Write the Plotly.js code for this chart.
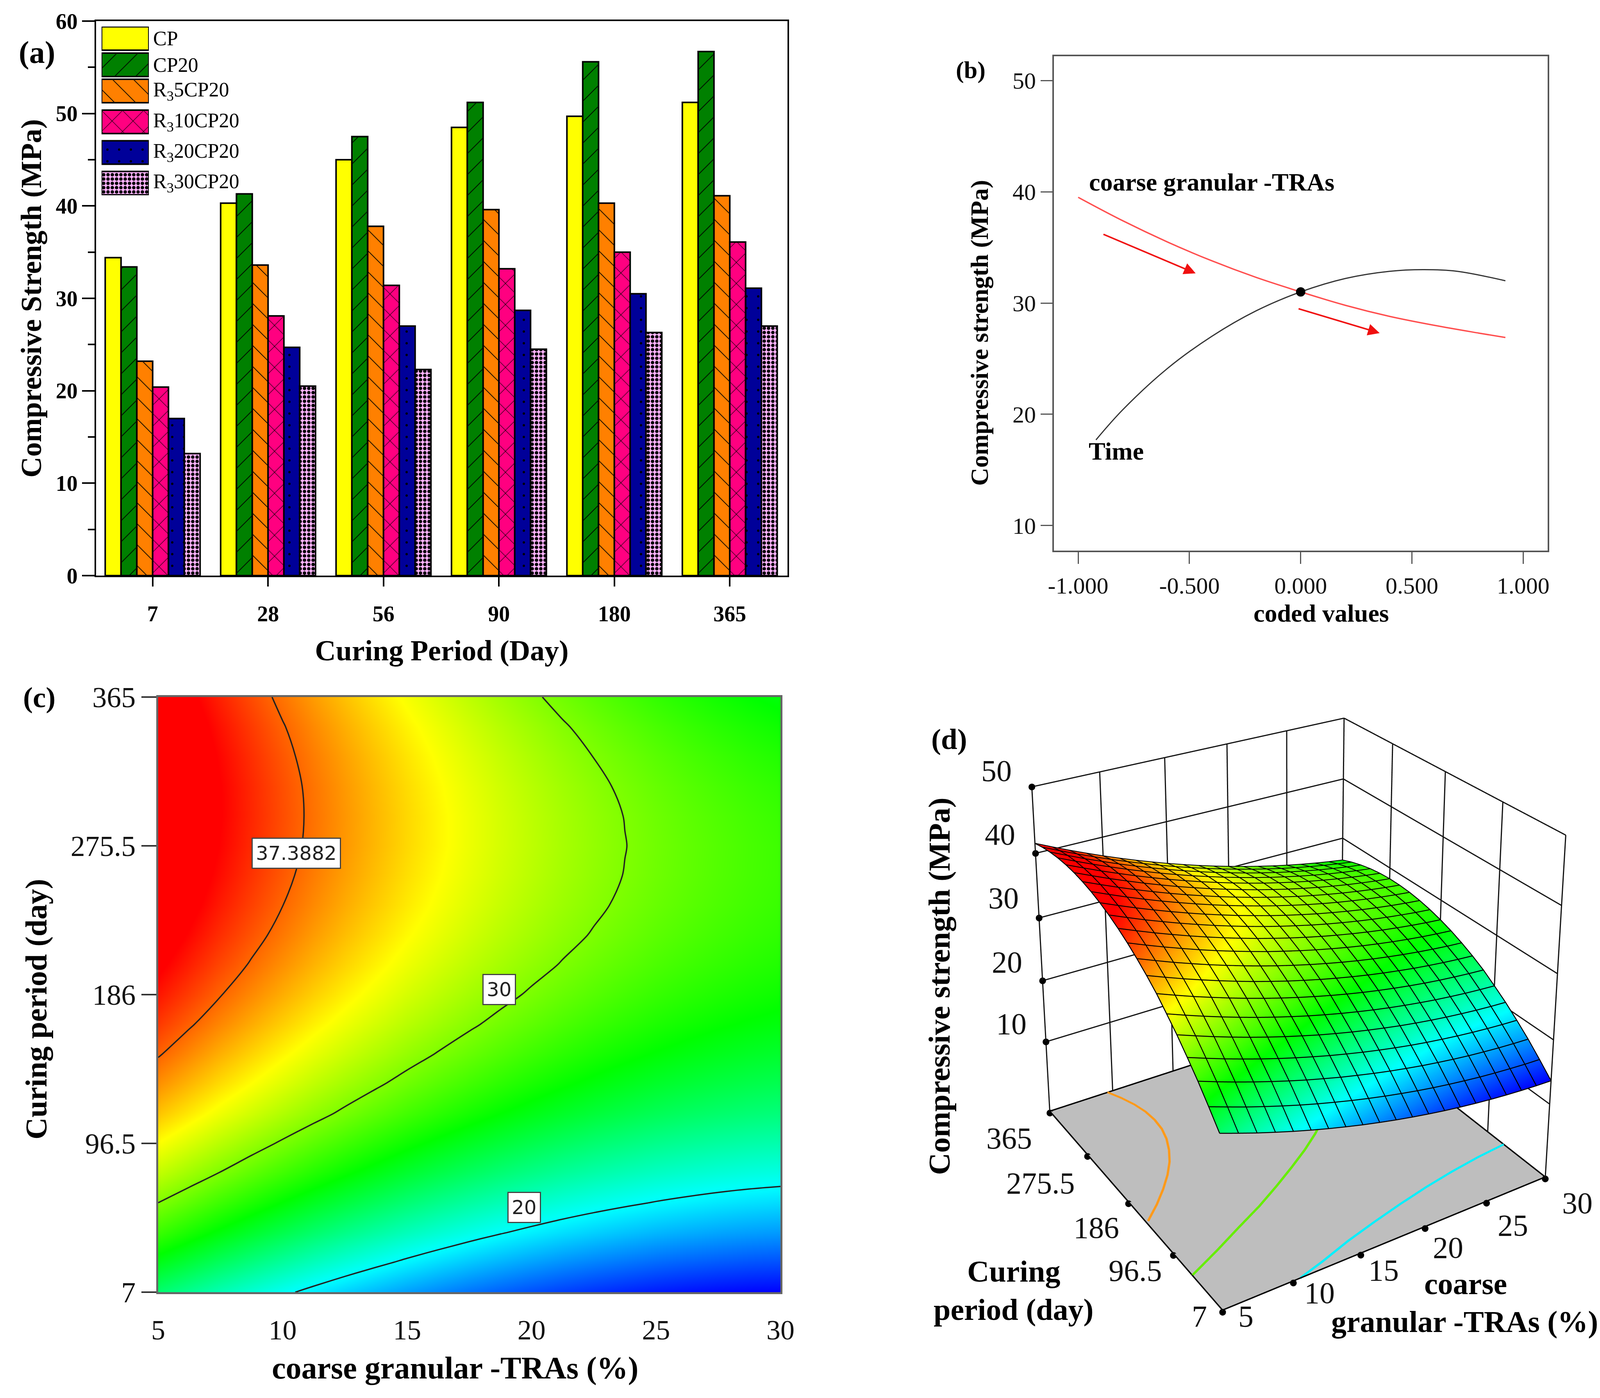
<!DOCTYPE html>
<html>
<head>
<meta charset="utf-8">
<script src="https://cdn.plot.ly/plotly-3.0.1.min.js"></script>
<style>html,body{margin:0;padding:0;background:#fff}</style>
</head>
<body>
<div id="chart" style="width:4111px;height:3580px"></div>
<script>
// panel (a) - bars
const days = ["7", "28", "56", "90", "180", "365"];
const cp      = [34.4, 40.3, 45.0, 48.5, 49.7, 51.2];
const cp20    = [33.4, 41.3, 47.5, 51.2, 55.6, 56.7];
const r5cp20  = [23.2, 33.6, 37.8, 39.6, 40.3, 41.1];
const r10cp20 = [20.4, 28.1, 31.4, 33.2, 35.0, 36.1];
const r20cp20 = [17.0, 24.7, 27.0, 28.7, 30.5, 31.1];
const r30cp20 = [13.2, 20.5, 22.3, 24.5, 26.3, 27.0];

// panel (b) - trace curves
const tracex = [-1, -0.8, -0.6, -0.4, -0.2, 0, 0.2, 0.4, 0.6, 0.8, 0.92];
const coarse = [39.5, 37.4, 35.5, 33.8, 32.3, 31, 29.8, 28.8, 28.0, 27.3, 26.9];
const timex  = [-0.92, -0.8, -0.6, -0.4, -0.2, 0, 0.2, 0.4, 0.55, 0.7, 0.92];
const timey  = [17.7, 20.4, 24.1, 27.0, 29.3, 31, 32.2, 32.85, 33, 32.86, 32.0];

// panels (c) and (d) - response surface
const tras = [5, 6.25, 7.5, 8.75, 10, 11.25, 12.5, 13.75, 15, 16.25, 17.5, 18.75, 20, 21.25, 22.5, 23.75, 25, 26.25, 27.5, 28.75, 30];
const curing = [7, 24.9, 42.8, 60.7, 78.6, 96.5, 114.4, 132.3, 150.2, 168.1, 186, 203.9, 221.8, 239.7, 257.6, 275.5, 293.4, 311.3, 329.2, 347.1, 365];
const strength = [
  [23.70, 22.79, 21.91, 21.09, 20.30, 19.56, 18.86, 18.21, 17.59, 17.03, 16.50, 16.02, 15.58, 15.18, 14.83, 14.52, 14.25, 14.03, 13.85, 13.71, 13.62],
  [25.93, 25.01, 24.11, 23.28, 22.48, 21.72, 21.01, 20.35, 19.72, 19.14, 18.60, 18.11, 17.65, 17.24, 16.88, 16.56, 16.27, 16.04, 15.85, 15.69, 15.59],
  [28.06, 27.12, 26.22, 25.37, 24.56, 23.79, 23.06, 22.39, 21.74, 21.16, 20.60, 20.09, 19.63, 19.20, 18.83, 18.49, 18.19, 17.95, 17.74, 17.58, 17.46],
  [29.99, 29.04, 28.12, 27.26, 26.43, 25.65, 24.92, 24.23, 23.57, 22.97, 22.40, 21.88, 21.40, 20.96, 20.57, 20.23, 19.92, 19.66, 19.44, 19.26, 19.13],
  [31.82, 30.86, 29.93, 29.05, 28.21, 27.42, 26.67, 25.97, 25.29, 24.68, 24.10, 23.57, 23.08, 22.62, 22.22, 21.86, 21.54, 21.27, 21.03, 20.84, 20.70],
  [33.45, 32.47, 31.53, 30.64, 29.79, 28.98, 28.22, 27.50, 26.82, 26.19, 25.60, 25.06, 24.55, 24.09, 23.67, 23.30, 22.96, 22.68, 22.43, 22.23, 22.07],
  [35.02, 34.03, 33.07, 32.18, 31.31, 30.49, 29.71, 28.98, 28.29, 27.65, 27.04, 26.48, 25.96, 25.49, 25.06, 24.67, 24.32, 24.02, 23.77, 23.55, 23.38],
  [36.34, 35.34, 34.37, 33.46, 32.58, 31.74, 30.95, 30.21, 29.50, 28.85, 28.23, 27.66, 27.13, 26.64, 26.20, 25.80, 25.43, 25.12, 24.85, 24.62, 24.44],
  [37.52, 36.51, 35.52, 34.60, 33.70, 32.86, 32.06, 31.30, 30.58, 29.91, 29.28, 28.70, 28.15, 27.65, 27.19, 26.78, 26.41, 26.08, 25.80, 25.55, 25.36],
  [38.58, 37.55, 36.56, 35.62, 34.71, 33.85, 33.04, 32.27, 31.53, 30.86, 30.21, 29.61, 29.06, 28.54, 28.07, 27.65, 27.26, 26.92, 26.62, 26.37, 26.16],
  [39.50, 38.46, 37.45, 36.50, 35.58, 34.71, 33.88, 33.10, 32.35, 31.66, 31.00, 30.39, 29.82, 29.29, 28.81, 28.37, 27.97, 27.62, 27.31, 27.04, 26.82],
  [40.29, 39.24, 38.21, 37.25, 36.32, 35.44, 34.59, 33.80, 33.04, 32.33, 31.66, 31.04, 30.45, 29.91, 29.42, 28.96, 28.55, 28.19, 27.87, 27.58, 27.35],
  [40.95, 39.88, 38.85, 37.87, 36.93, 36.03, 35.17, 34.37, 33.59, 32.88, 32.19, 31.55, 30.96, 30.40, 29.90, 29.43, 29.00, 28.63, 28.29, 28.00, 27.75],
  [41.48, 40.40, 39.35, 38.36, 37.40, 36.50, 35.63, 34.81, 34.02, 33.29, 32.59, 31.94, 31.33, 30.76, 30.24, 29.76, 29.33, 28.94, 28.59, 28.28, 28.02],
  [41.87, 40.78, 39.72, 38.71, 37.74, 36.82, 35.94, 35.11, 34.30, 33.56, 32.85, 32.19, 31.57, 30.98, 30.45, 29.96, 29.51, 29.11, 28.74, 28.42, 28.15],
  [42.14, 41.04, 39.96, 38.95, 37.96, 37.03, 36.13, 35.29, 34.47, 33.72, 32.99, 32.31, 31.68, 31.08, 30.54, 30.03, 29.57, 29.15, 28.78, 28.44, 28.16],
  [42.27, 41.15, 40.06, 39.04, 38.04, 37.09, 36.18, 35.32, 34.50, 33.73, 32.99, 32.30, 31.65, 31.05, 30.49, 29.97, 29.49, 29.06, 28.68, 28.33, 28.03],
  [42.27, 41.14, 40.04, 39.00, 37.99, 37.03, 36.10, 35.23, 34.39, 33.61, 32.86, 32.16, 31.50, 30.88, 30.31, 29.77, 29.28, 28.84, 28.44, 28.08, 27.77],
  [42.13, 40.99, 39.87, 38.82, 37.79, 36.82, 35.89, 35.00, 34.15, 33.35, 32.59, 31.88, 31.20, 30.57, 29.98, 29.44, 28.94, 28.48, 28.07, 27.69, 27.37],
  [41.87, 40.71, 39.59, 38.52, 37.48, 36.50, 35.55, 34.65, 33.78, 32.98, 32.20, 31.47, 30.79, 30.14, 29.54, 28.98, 28.47, 28.00, 27.57, 27.19, 26.85],
  [41.47, 40.30, 39.16, 38.08, 37.03, 36.03, 35.07, 34.16, 33.28, 32.46, 31.67, 30.93, 30.23, 29.57, 28.96, 28.39, 27.86, 27.38, 26.94, 26.54, 26.19]
];

// floor contours of panel (d)
const orangeX = [9.57, 10.11, 10.52, 10.78, 10.86, 10.77, 10.48, 10.01, 9.39, 8.57, 7.58, 6.45, 5.16];
const orangeY = [365, 347.1, 329.2, 311.3, 293.4, 275.5, 257.6, 239.7, 221.8, 203.9, 186, 168.1, 150.2];
const greenX = [5, 7.41, 9.69, 12.04, 14.12, 16.08, 17.94, 19.6, 21.04, 22.25, 23.13, 23.65, 23.83, 23.68, 23.22, 22.46, 21.54, 20.44];
const greenY = [60.9, 78.6, 96.5, 114.4, 132.3, 150.2, 168.1, 186, 203.9, 221.8, 239.7, 257.6, 275.5, 293.4, 311.3, 329.2, 347.1, 365];
const cyanX = [10.51, 12.5, 15, 17.5, 20, 22.5, 25, 27.5, 30];
const cyanY = [7, 15.4, 27.4, 37.4, 46.6, 54.8, 61.6, 67, 70.6];

const W = 4111, H = 3580;
const SERIF = "'Liberation Serif', 'Times New Roman', serif";
const domX = (a, b) => [a / W, b / W];
const domY = (top, bottom) => [1 - bottom / H, 1 - top / H];
const px = x => x / W;
const py = y => 1 - y / H;

function patt(shape, color, size, solidity) {
  return { color: color, line: { color: "#000", width: 4 },
    pattern: { shape: shape, fillmode: "replace", fgcolor: "#000", bgcolor: color, size: size, solidity: solidity } };
}
const styles = [
  patt("", "#ffff00", 10, 0.1),
  patt("/", "#008000", 38, 0.05),
  patt("\\", "#ff8000", 38, 0.05),
  patt("x", "#ff0080", 38, 0.06),
  patt(".", "#000099", 30, 0.03),
  patt(".", "#ffb3ff", 11, 0.5),
];
const names = ["CP", "CP20", "R<sub>3</sub>5CP20", "R<sub>3</sub>10CP20", "R<sub>3</sub>20CP20", "R<sub>3</sub>30CP20"];
const barSeries = [cp, cp20, r5cp20, r10cp20, r20cp20, r30cp20];

const traces = barSeries.map((v, i) => ({
  type: "bar", x: days, y: v, name: names[i], marker: styles[i],
  xaxis: "x", yaxis: "y", showlegend: false, hoverinfo: "skip",
}));

// big legend swatches: Plotly's own legend keeps them tiny, so they live on a small axis pair
const swatchY = [98.5, 166, 233, 312, 390.5, 469];
names.forEach((n, i) => traces.push({
  type: "bar", orientation: "h", x: [1], y: [swatchY[i]], width: 60, marker: styles[i],
  xaxis: "x5", yaxis: "y5", showlegend: false, hoverinfo: "skip",
}));

traces.push(
  { type: "scatter", mode: "lines", x: tracex, y: coarse, line: { color: "#ff4d4d", width: 3.5, shape: "spline" }, xaxis: "x2", yaxis: "y2", showlegend: false },
  { type: "scatter", mode: "lines", x: timex, y: timey, line: { color: "#333", width: 3, shape: "spline" }, xaxis: "x2", yaxis: "y2", showlegend: false },
  { type: "scatter", mode: "markers", x: [0], y: [31], marker: { color: "#000", size: 24 }, xaxis: "x2", yaxis: "y2", showlegend: false }
);

const rainbow = [[0, "#0000ff"], [0.223, "#00ffff"], [0.449, "#00ff00"], [0.693, "#ffff00"], [0.92, "#ff0000"], [1, "#ff0000"]];
const ZMIN = 13.6, ZMAX = 42.3;

traces.push(
  { type: "contour", x: tras, y: curing, z: strength, colorscale: rainbow, zmin: ZMIN, zmax: ZMAX, showscale: false,
    contours: { coloring: "heatmap", start: 20, end: 30, size: 10 }, line: { color: "#222", width: 3.5, smoothing: 1 },
    xaxis: "x3", yaxis: "y3", hoverinfo: "skip" },
  { type: "contour", x: tras, y: curing, z: strength, showscale: false,
    contours: { coloring: "none", start: 37.3882, end: 37.3882, size: 1 }, line: { color: "#222", width: 3.5, smoothing: 1 },
    xaxis: "x3", yaxis: "y3", hoverinfo: "skip" }
);

// 3D panel
const FLOOR = -2, ZTOP = 50;
const gridX = [5, 10, 15, 20, 25, 30];
const gridY = [7, 96.5, 186, 275.5, 365];
const gridZ = [10, 20, 30, 40, 50];
const line3 = (x, y, color, w) => ({ type: "scatter3d", mode: "lines", x: x, y: y, z: x.map(() => FLOOR + 0.3),
  line: { color: color, width: w }, showlegend: false, hoverinfo: "skip", scene: "scene" });

// mesh lines on the surface, taken straight from the table
const meshX = [], meshY = [], meshZ = [];
curing.forEach((y, j) => {
  tras.forEach((x, i) => { meshX.push(x); meshY.push(y); meshZ.push(strength[j][i] + 0.05); });
  meshX.push(null); meshY.push(null); meshZ.push(null);
});
tras.forEach((x, i) => {
  curing.forEach((y, j) => { meshX.push(x); meshY.push(y); meshZ.push(strength[j][i] + 0.05); });
  meshX.push(null); meshY.push(null); meshZ.push(null);
});

// wall grid: native 3D grid lines stay 1px wide and also cross the floor
const wallX = [], wallY = [], wallZ = [];
const seg = (a, b) => { wallX.push(a[0], b[0], null); wallY.push(a[1], b[1], null); wallZ.push(a[2], b[2], null); };
gridX.forEach(x => seg([x, 365, FLOOR], [x, 365, ZTOP]));
gridY.forEach(y => seg([30, y, FLOOR], [30, y, ZTOP]));
gridZ.forEach(z => { seg([5, 365, z], [30, 365, z]); seg([30, 365, z], [30, 7, z]); });

traces.push(
  { type: "surface", x: tras, y: curing, z: strength, colorscale: rainbow, cmin: ZMIN, cmax: ZMAX, showscale: false,
    lighting: { ambient: 0.95, diffuse: 0.1, specular: 0, roughness: 1, fresnel: 0 }, hoverinfo: "skip", scene: "scene" },
  { type: "surface", x: [5, 30], y: [7, 365], z: [[FLOOR + 0.2, FLOOR + 0.2], [FLOOR + 0.2, FLOOR + 0.2]],
    colorscale: [[0, "#bebebe"], [1, "#bebebe"]], showscale: false,
    lighting: { ambient: 1, diffuse: 0, specular: 0, roughness: 1, fresnel: 0 }, hoverinfo: "skip", scene: "scene" },
  { type: "scatter3d", mode: "lines", x: meshX, y: meshY, z: meshZ, line: { color: "#000", width: 5 }, showlegend: false, hoverinfo: "skip", scene: "scene" },
  { type: "scatter3d", mode: "lines", x: wallX, y: wallY, z: wallZ, line: { color: "#111", width: 6 }, showlegend: false, hoverinfo: "skip", scene: "scene" },
  line3(orangeX, orangeY, "#ff9a1a", 12),
  line3(greenX, greenY, "#66ee00", 12),
  line3(cyanX, cyanY, "#00f0ff", 12),
  line3([5, 30, 30, 5, 5], [7, 7, 365, 365, 7], "#000", 7),
  { type: "scatter3d", mode: "markers", showlegend: false, hoverinfo: "skip", scene: "scene",
    x: gridX.concat(gridY.map(() => 5), gridZ.map(() => 5)),
    y: gridX.map(() => 7).concat(gridY, gridZ.map(() => 365)),
    z: gridX.map(() => FLOOR).concat(gridY.map(() => FLOOR), gridZ),
    marker: { color: "#000", size: 10 } }
);

const tickFont = { family: SERIF, size: 60, color: "#111" };
const titleFont = sz => ({ family: SERIF, size: sz, color: "#000", weight: "bold" });
const axis3 = rng => ({
  range: rng, showticklabels: false, title: { text: "" }, showbackground: false, showspikes: false,
  zeroline: false, showgrid: false, showline: false, ticks: "",
});

function lab(text, x, y, size, extra) {
  return Object.assign({ text: text, xref: "paper", yref: "paper", x: px(x), y: py(y), showarrow: false,
    font: { family: SERIF, size: size, color: "#000", weight: "bold" }, xanchor: "center", yanchor: "middle" }, extra || {});
}
const annotations = [
  lab("(a)", 94, 134, 80), lab("(b)", 2485, 179, 62), lab("(c)", 100, 1786, 75), lab("(d)", 2430, 1892, 75),
  lab("Compressive strength (MPa)", 2507, 853, 64, { textangle: -90 }),
  lab("coded values", 3382, 1570, 64),
  lab("Curing period (day)", 92, 2585, 78, { textangle: -90 }),
  lab("coarse granular -TRAs (%)", 1165, 3503, 80),
  lab("Compressive strength (MPa)", 2404, 2526, 79, { textangle: -90 }),
  lab("Curing", 2595, 3255, 78), lab("period (day)", 2595, 3353, 78),
  lab("coarse", 3752, 3287, 78), lab("granular -TRAs (%)", 3749, 3384, 78),
  lab("coarse granular -TRAs", 2786, 466, 64, { xanchor: "left" }),
  lab("Time", 2785, 1156, 64, { xanchor: "left" }),
];
names.forEach((n, i) => annotations.push(lab(n, 390, swatchY[i], 52, {
  xanchor: "left", font: { family: SERIF, size: 52, color: "#000" } })));

// tick labels of the 3D panel
[["50", 2551, 1973], ["40", 2560, 2136], ["30", 2569, 2299], ["20", 2578, 2463], ["10", 2589, 2621],
 ["365", 2583, 2914], ["275.5", 2664, 3029], ["186", 2806, 3143], ["96.5", 2906, 3253], ["7", 3070, 3370],
 ["5", 3189, 3370], ["10", 3378, 3310], ["15", 3542, 3252], ["20", 3707, 3194], ["25", 3873, 3137], ["30", 4038, 3080]
].forEach(t => annotations.push(lab(t[0], t[1], t[2], 78, { font: { family: SERIF, size: 78, color: "#111" } })));

[["37.3882", 10.54, 271], ["30", 18.7, 189], ["20", 19.7, 58]].forEach(a => annotations.push({
  text: a[0], xref: "x3", yref: "y3", x: a[1], y: a[2], showarrow: false,
  font: { family: "'DejaVu Sans', sans-serif", size: 50, color: "#222" },
  bgcolor: "#fff", bordercolor: "#444", borderwidth: 3, borderpad: 8,
}));
[[-0.889, 36.2, -0.472, 32.67], [-0.012, 29.5, 0.355, 27.3]].forEach(a => annotations.push({
  xref: "x2", yref: "y2", axref: "x2", ayref: "y2", ax: a[0], ay: a[1], x: a[2], y: a[3], text: "",
  showarrow: true, arrowhead: 2, arrowsize: 1.5, arrowwidth: 4, arrowcolor: "#f01010", standoff: 0,
}));

const layout = {
  width: W, height: H, margin: { l: 0, r: 0, t: 0, b: 0 }, paper_bgcolor: "#fff", plot_bgcolor: "#fff",
  barmode: "group", bargap: 0.178, bargroupgap: 0, showlegend: false, font: { family: SERIF },
  xaxis: { domain: domX(246, 2016), anchor: "y", type: "category", range: [-0.49, 5.5], ticks: "outside", ticklen: 24, tickwidth: 4,
    tickcolor: "#000", showline: true, linecolor: "#000", linewidth: 4, mirror: true, showgrid: false,
    tickfont: { family: SERIF, size: 56, color: "#000", weight: "bold" }, ticklabelstandoff: 22,
    title: { text: "Curing Period (Day)", font: titleFont(74), standoff: 38 } },
  yaxis: { domain: domY(54, 1474), anchor: "x", range: [0, 60], tickvals: [0, 10, 20, 30, 40, 50, 60], ticks: "outside", ticklen: 32, tickwidth: 4,
    tickcolor: "#000", showline: true, linecolor: "#000", linewidth: 4, mirror: true, showgrid: false, zeroline: false,
    minor: { tickvals: [5, 15, 25, 35, 45, 55], ticks: "outside", ticklen: 17, tickwidth: 4, tickcolor: "#000" },
    tickfont: { family: SERIF, size: 56, color: "#000", weight: "bold" },
    title: { text: "Compressive Strength (MPa)", font: titleFont(74), standoff: 14 } },

  xaxis5: { domain: domX(260, 381), anchor: "y5", range: [0, 1], visible: false, fixedrange: true },
  yaxis5: { domain: domY(68, 500), anchor: "x5", range: [500, 68], visible: false, fixedrange: true },

  xaxis2: { domain: domX(2698, 3962), anchor: "y2", range: [-1.109, 1.11], tickvals: [-1, -0.5, 0, 0.5, 1], ticktext: ["-1.000", "-0.500", "0.000", "0.500", "1.000"],
    ticks: "outside", ticklen: 30, tickwidth: 3,
    tickcolor: "#555", showline: true, linecolor: "#555", linewidth: 4, mirror: true, showgrid: false, zeroline: false, tickfont: tickFont, ticklabelstandoff: 4 },
  yaxis2: { domain: domY(144, 1410), anchor: "x2", range: [7.75, 52.18], tickvals: [10, 20, 30, 40, 50], ticks: "outside", ticklen: 30, tickwidth: 3,
    tickcolor: "#555", showline: true, linecolor: "#555", linewidth: 4, mirror: true, showgrid: false, zeroline: false, tickfont: tickFont },

  xaxis3: { domain: domX(405, 1998), anchor: "y3", range: [5, 30], tickvals: gridX, ticks: "", showline: true, linecolor: "#666", linewidth: 5, mirror: true,
    showgrid: false, zeroline: false, tickfont: { family: SERIF, size: 72, color: "#111" }, ticklabelstandoff: 30 },
  yaxis3: { domain: domY(1785, 3309), anchor: "x3", range: [7, 365], tickvals: gridY, ticks: "outside", ticklen: 38, tickwidth: 4, tickcolor: "#333",
    showline: true, linecolor: "#666", linewidth: 5, mirror: true, showgrid: false, zeroline: false, tickfont: { family: SERIF, size: 74, color: "#111" } },

  scene: {
    domain: { x: domX(2512, 4092), y: [0, 1] },
    aspectmode: "manual", aspectratio: { x: 1, y: 1, z: 1.01 },
    camera: { eye: { x: -2.087, y: -3.342, z: 2.198 }, center: { x: 0.134, y: 0.214, z: 0.707 }, up: { x: 0, y: 0, z: 1 } },
    xaxis: axis3([4.8, 30.2]), yaxis: axis3([3, 369]), zaxis: axis3([-2.4, 50.4]),
  },
  annotations: annotations,
};

Plotly.newPlot("chart", traces, layout, { displayModeBar: false });
</script>
</body>
</html>
